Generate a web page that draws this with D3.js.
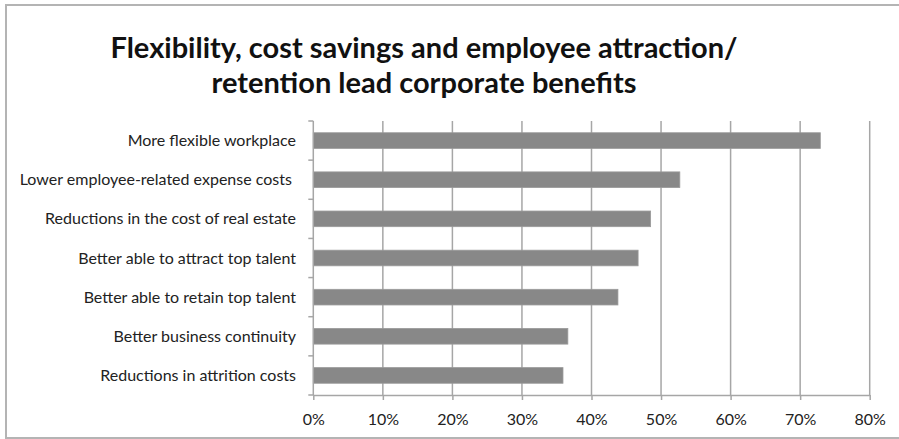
<!DOCTYPE html>
<html>
<head>
<meta charset="utf-8">
<script src="https://cdn.jsdelivr.net/npm/d3@7"></script>
<style>
  html, body { margin: 0; padding: 0; background: #fff; }
  svg { display: block; }
</style>
</head>
<body>
<svg id="chart" width="899" height="439"></svg>
<script>
// Corporate benefits of flexible work, share of respondents
const categories = [
  "More flexible workplace",
  "Lower employee-related expense costs ",
  "Reductions in the cost of real estate",
  "Better able to attract top talent",
  "Better able to retain top talent",
  "Better business continuity",
  "Reductions in attrition costs"
];
const values = [0.729, 0.527, 0.485, 0.467, 0.438, 0.366, 0.359];
const xTicks = [0, 0.1, 0.2, 0.3, 0.4, 0.5, 0.6, 0.7, 0.8];
const titleLines = [
  "Flexibility, cost savings and employee attraction/",
  "retention lead corporate benefits"
];

const W = 899, H = 439;
const plot = { left: 313.3, right: 869.7, top: 121, bottom: 395 };
const font = "Lato, 'Open Sans', sans-serif";

const svg = d3.select("#chart");

// outer frame
svg.append("rect")
  .attr("x", 6).attr("y", 5)
  .attr("width", W + 10).attr("height", 433)
  .attr("fill", "#fff")
  .attr("stroke", "#b4b4b4")
  .attr("stroke-width", 2);

// title
svg.append("g")
  .selectAll("text")
  .data(titleLines)
  .join("text")
  .attr("x", 424)
  .attr("y", (d, i) => 58 + i * 35)
  .attr("text-anchor", "middle")
  .attr("font-family", font)
  .attr("font-weight", "bold")
  .attr("font-size", 29)
  .attr("fill", "#111")
  .text(d => d);

const x = d3.scaleLinear().domain([0, 0.8]).range([plot.left, plot.right]);
const y = d3.scaleBand().domain(categories).range([plot.top, plot.bottom]).paddingInner(0.6).paddingOuter(0.3);

// vertical gridlines
svg.append("g")
  .selectAll("line")
  .data(xTicks.slice(1))
  .join("line")
  .attr("x1", d => x(d)).attr("x2", d => x(d))
  .attr("y1", plot.top).attr("y2", plot.bottom)
  .attr("stroke", "#a6a6a6")
  .attr("stroke-width", 1.5);

// bars
svg.append("g")
  .selectAll("rect")
  .data(values)
  .join("rect")
  .attr("x", x(0))
  .attr("y", (d, i) => y(categories[i]))
  .attr("width", d => x(d) - x(0))
  .attr("height", y.bandwidth())
  .attr("fill", "#888888")
  .attr("stroke", "#9a9a9a")
  .attr("stroke-width", 0.8);

// x axis
const xAxis = d3.axisBottom(x)
  .tickValues(xTicks)
  .tickFormat(d3.format(".0%"))
  .tickSizeInner(5)
  .tickSizeOuter(0)
  .tickPadding(14);
const gx = svg.append("g")
  .attr("transform", `translate(0,${plot.bottom})`)
  .call(xAxis);
gx.select(".domain").attr("stroke", "#a6a6a6").attr("stroke-width", 1.5);
gx.selectAll(".tick line").attr("stroke", "#a6a6a6").attr("stroke-width", 1.5);
gx.selectAll("text")
  .attr("font-family", font)
  .attr("font-size", 16)
  .attr("fill", "#222");

// y axis: line with ticks at category boundaries
const yBounds = d3.range(categories.length + 1).map(i => plot.top + i * (plot.bottom - plot.top) / categories.length);
svg.append("line")
  .attr("x1", x(0)).attr("x2", x(0))
  .attr("y1", plot.top).attr("y2", plot.bottom)
  .attr("stroke", "#a6a6a6")
  .attr("stroke-width", 1.5);
svg.append("g")
  .selectAll("line")
  .data(yBounds)
  .join("line")
  .attr("x1", x(0) - 5).attr("x2", x(0))
  .attr("y1", d => d).attr("y2", d => d)
  .attr("stroke", "#a6a6a6")
  .attr("stroke-width", 1.5);

// category labels
svg.append("g")
  .selectAll("text")
  .data(categories)
  .join("text")
  .attr("x", 296)
  .attr("y", d => y(d) + y.bandwidth() / 2)
  .attr("dy", "0.35em")
  .attr("text-anchor", "end")
  .attr("xml:space", "preserve")
  .style("white-space", "pre")
  .attr("font-family", font)
  .attr("font-size", 16)
  .attr("fill", "#222")
  .text(d => d);
</script>
</body>
</html>
